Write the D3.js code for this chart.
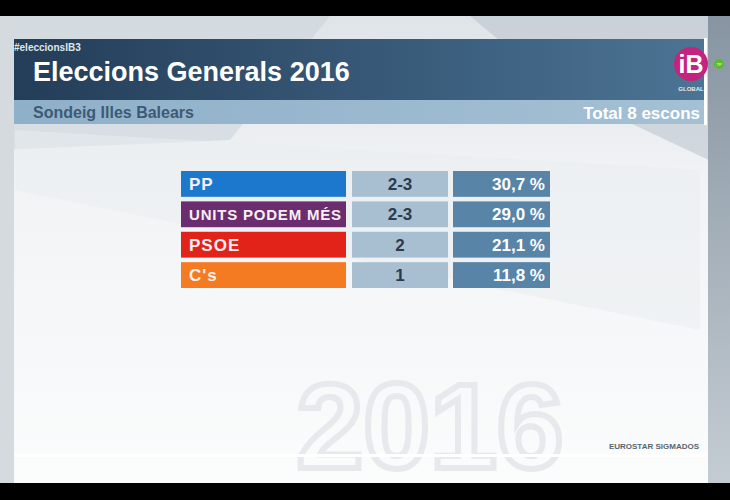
<!DOCTYPE html>
<html lang="ca">
<head>
    <meta charset="UTF-8">
    <title>Eleccions Generals 2016</title>
    <script src="https://d3js.org/d3.v7.min.js"></script>
    <style>
        body { margin: 0; background: #000; }
        svg { display: block; font-family: "Liberation Sans", Arial, sans-serif; }
    </style>
</head>
<body>
    <div id="vis"></div>

    <script>

        // poll data
        var parties = ["PP", "UNITS PODEM MÉS", "PSOE", "C's"];
        var seats = ["2-3", "2-3", "2", "1"];
        var shares = [30.7, 29.0, 21.1, 11.8];
        var partyColors = ["#1b78cc", "#6b2d6f", "#e2231a", "#f57b22"];

        var title = "Eleccions Generals 2016";
        var subtitle = "Sondeig Illes Balears";
        var total = "Total 8 escons";
        var hashtag = "#eleccionsIB3";
        var source = "EUROSTAR SIGMADOS";

        var width = 730;
        var height = 500;

        var svg = d3.select("#vis")
            .append("svg")
              .attr("width", width)
              .attr("height", height);

        var defs = svg.append("defs");

        var bg = defs.append("linearGradient").attr("id", "bg")
            .attr("x1", 0).attr("y1", 0).attr("x2", 0).attr("y2", 1);
        bg.append("stop").attr("offset", "0%").attr("stop-color", "#dfe4e8");
        bg.append("stop").attr("offset", "35%").attr("stop-color", "#f1f3f5");
        bg.append("stop").attr("offset", "100%").attr("stop-color", "#fbfcfc");

        var head = defs.append("linearGradient").attr("id", "head")
            .attr("x1", 0).attr("y1", 0).attr("x2", 1).attr("y2", 0);
        head.append("stop").attr("offset", "0%").attr("stop-color", "#243d58");
        head.append("stop").attr("offset", "60%").attr("stop-color", "#3a5d7c");
        head.append("stop").attr("offset", "100%").attr("stop-color", "#4d7494");

        var sub = defs.append("linearGradient").attr("id", "sub")
            .attr("x1", 0).attr("y1", 0).attr("x2", 1).attr("y2", 0);
        sub.append("stop").attr("offset", "0%").attr("stop-color", "#8fb0c9");
        sub.append("stop").attr("offset", "100%").attr("stop-color", "#a4c0d4");

        var side = defs.append("linearGradient").attr("id", "side")
            .attr("x1", 0).attr("y1", 0).attr("x2", 0).attr("y2", 1);
        side.append("stop").attr("offset", "0%").attr("stop-color", "#8795a2");
        side.append("stop").attr("offset", "100%").attr("stop-color", "#c4ccd3");

        // screen area
        svg.append("rect")
            .attr("x", 0).attr("y", 16)
            .attr("width", width).attr("height", 467)
            .attr("fill", "url(#bg)");

        // soft diagonal shapes in the backdrop
        svg.append("polygon")
            .attr("points", "0,16 330,16 230,140 0,150")
            .attr("fill", "#c9d1d8").attr("opacity", 0.55);
        svg.append("polygon")
            .attr("points", "470,16 730,16 730,170 560,90")
            .attr("fill", "#b4bec8").attr("opacity", 0.5);
        svg.append("polygon")
            .attr("points", "15,130 700,170 700,330 15,190")
            .attr("fill", "#e9edf0").attr("opacity", 0.5);
        svg.append("rect")
            .attr("x", 0).attr("y", 16)
            .attr("width", 14).attr("height", 467)
            .attr("fill", "#d4dade");
        svg.append("rect")
            .attr("x", 708).attr("y", 16)
            .attr("width", 22).attr("height", 467)
            .attr("fill", "url(#side)");

        // faint 2016 watermark
        svg.append("text")
            .attr("x", 430).attr("y", 468)
            .attr("text-anchor", "middle")
            .attr("font-size", 120)
            .attr("font-weight", "bold")
            .attr("fill", "none")
            .attr("stroke", "#e6eaed")
            .attr("stroke-width", 6)
            .text("2016");

        // header bars
        svg.append("rect")
            .attr("x", 14).attr("y", 39)
            .attr("width", 692).attr("height", 61)
            .attr("fill", "url(#head)");
        svg.append("rect")
            .attr("x", 14).attr("y", 100)
            .attr("width", 692).attr("height", 24)
            .attr("fill", "url(#sub)");
        svg.append("rect")
            .attr("x", 704).attr("y", 38)
            .attr("width", 3).attr("height", 87)
            .attr("fill", "#ffffff");

        svg.append("text")
            .attr("x", 14).attr("y", 51)
            .attr("font-size", 10)
            .attr("font-weight", "bold")
            .attr("fill", "#dfe6ec")
            .text(hashtag);

        svg.append("text")
            .attr("x", 33).attr("y", 81)
            .attr("font-size", 27)
            .attr("font-weight", "bold")
            .attr("fill", "#ffffff")
            .text(title);

        svg.append("text")
            .attr("x", 33).attr("y", 118)
            .attr("font-size", 16)
            .attr("font-weight", "bold")
            .attr("fill", "#3d5a75")
            .text(subtitle);

        svg.append("text")
            .attr("x", 700).attr("y", 119)
            .attr("text-anchor", "end")
            .attr("font-size", 17)
            .attr("font-weight", "bold")
            .attr("fill", "#ffffff")
            .text(total);

        // channel logo
        var logo = svg.append("g").attr("transform", "translate(691,64)");
        logo.append("circle").attr("r", 17).attr("fill", "#c5247e");
        logo.append("text")
            .attr("y", 9).attr("text-anchor", "middle")
            .attr("font-size", 25).attr("font-weight", "bold")
            .attr("fill", "#ffffff").text("iB");
        logo.append("text")
            .attr("y", 27).attr("text-anchor", "middle")
            .attr("font-size", 6).attr("font-weight", "bold")
            .attr("fill", "#e6edf2").text("GLOBAL");
        svg.append("circle").attr("cx", 719).attr("cy", 64).attr("r", 5).attr("fill", "#5dbb2e");
        svg.append("text")
            .attr("x", 719).attr("y", 66).attr("text-anchor", "middle")
            .attr("font-size", 4).attr("fill", "#ffffff").text("TP");

        // table
        var y = d3.scaleBand()
            .domain(parties)
            .range([171, 288])
            .paddingInner(0.15);

        var x = d3.scaleOrdinal()
            .domain(["party", "seats", "share"])
            .range([181, 352, 453]);
        var colWidth = { party: 165, seats: 96, share: 97 };

        var fmt = function(v) { return d3.format(".1f")(v).replace(".", ",") + " %"; };

        var rows = svg.selectAll(".row")
            .data(parties.map(function(p, i) {
                return { party: p, seats: seats[i], share: shares[i], color: partyColors[i] };
            }))
            .enter()
            .append("g")
              .attr("class", "row")
              .attr("transform", function(d) { return "translate(0," + y(d.party) + ")"; });

        rows.append("rect")
            .attr("x", x("party"))
            .attr("width", colWidth.party)
            .attr("height", y.bandwidth())
            .attr("fill", function(d) { return d.color; });

        rows.append("rect")
            .attr("x", x("seats"))
            .attr("width", colWidth.seats)
            .attr("height", y.bandwidth())
            .attr("fill", "#a8bfd1");

        rows.append("rect")
            .attr("x", x("share"))
            .attr("width", colWidth.share)
            .attr("height", y.bandwidth())
            .attr("fill", "#5884a7");

        rows.append("text")
            .attr("x", x("party") + 8)
            .attr("y", y.bandwidth() / 2 + 6)
            .attr("font-size", function(d) { return d.party.length > 10 ? 15 : 17; })
            .attr("font-weight", "bold")
            .attr("letter-spacing", function(d) { return d.party.length > 10 ? 0 : 1; })
            .attr("fill", "#f6f0f4")
            .attr("textLength", function(d) { return d.party.length > 10 ? 152 : null; })
            .text(function(d) { return d.party; });

        rows.append("text")
            .attr("x", x("seats") + colWidth.seats / 2)
            .attr("y", y.bandwidth() / 2 + 6)
            .attr("text-anchor", "middle")
            .attr("font-size", 17)
            .attr("font-weight", "bold")
            .attr("fill", "#2c3b4b")
            .text(function(d) { return d.seats; });

        rows.append("text")
            .attr("x", x("share") + colWidth.share - 5)
            .attr("y", y.bandwidth() / 2 + 6)
            .attr("text-anchor", "end")
            .attr("font-size", 17)
            .attr("font-weight", "bold")
            .attr("fill", "#ffffff")
            .text(function(d) { return fmt(d.share); });

        // source line
        svg.append("rect")
            .attr("x", 14).attr("y", 454)
            .attr("width", 692).attr("height", 3)
            .attr("fill", "#ffffff");
        svg.append("text")
            .attr("x", 699).attr("y", 449)
            .attr("text-anchor", "end")
            .attr("font-size", 8)
            .attr("font-weight", "bold")
            .attr("fill", "#5a6570")
            .text(source);

    </script>
</body>
</html>
